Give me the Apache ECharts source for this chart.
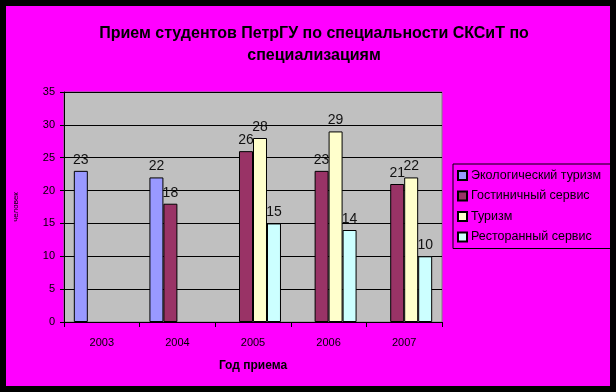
<!DOCTYPE html>
<html><head><meta charset="utf-8">
<script src="https://cdn.jsdelivr.net/npm/echarts@6/dist/echarts.min.js"></script>
<style>
html,body{margin:0;padding:0;background:#000;}
#c{width:616px;height:392px;background:#FF00FF;box-shadow:inset 0 0 0 6px #000;}
</style></head>
<body><div id="c"></div>
<script>
const years = ['2003','2004','2005','2006','2007'];
const seriesNames = ['Экологический туризм','Гостиничный сервис','Туризм','Ресторанный сервис'];
const ecoTourism = [23, 22, null, null, null];
const hotelService = [null, 18, 26, 23, 21];
const tourism = [null, null, 28, 29, 22];
const restaurantService = [null, null, 15, 14, 10];
const yTicks = {min: 0, max: 35, interval: 5};
const colors = ['#9999FF','#993366','#FFFFCC','#CCFFFF'];

const values = [ecoTourism, hotelService, tourism, restaurantService];
const chart = echarts.init(document.getElementById('c'));
chart.setOption({
  backgroundColor: 'transparent',
  animation: false,
  textStyle: {fontFamily: 'Arial, Liberation Sans'},
  title: {
    text: 'Прием студентов ПетрГУ по специальности СКСиТ по\nспециализациям',
    left: 309, top: 18, textAlign: 'center',
    textStyle: {fontSize: 16, fontWeight: 'bold', color: '#000', lineHeight: 22, fontFamily: 'Arial, Liberation Sans'}
  },
  legend: {
    orient: 'vertical', left: 453, top: 164,
    padding: [5, 10, 5, 4],
    itemGap: 7.5, itemWidth: 9, itemHeight: 9, icon: 'rect',
    borderColor: '#000', borderWidth: 1,
    textStyle: {fontSize: 12.5, color: '#000', padding: [0,0,0,-1]},
    data: seriesNames
  },
  grid: {left: 64, right: 174, top: 92, bottom: 70, show: true, backgroundColor: '#C0C0C0', borderColor: '#808080', borderWidth: 1},
  xAxis: {
    type: 'category', data: years,
    name: 'Год приема', nameLocation: 'middle', nameGap: 38,
    nameTextStyle: {fontSize: 12, fontWeight: 'bold', color: '#000'},
    axisLine: {lineStyle: {color: '#000', width: 1}},
    axisTick: {show: true, length: 5, lineStyle: {color: '#000'}},
    axisLabel: {fontSize: 11, color: '#000', margin: 15}
  },
  yAxis: {
    type: 'value', min: yTicks.min, max: yTicks.max, interval: yTicks.interval,
    name: 'человек', nameLocation: 'middle', nameGap: 44, nameRotate: 90,
    nameTextStyle: {fontSize: 8, color: '#000'},
    axisLine: {show: true, lineStyle: {color: '#000', width: 1}},
    axisTick: {show: true, length: 4, lineStyle: {color: '#000'}},
    axisLabel: {fontSize: 11, color: '#000', margin: 9},
    splitLine: {lineStyle: {color: '#000', width: 1}}
  },
  series: seriesNames.map((n, i) => ({
    name: n, type: 'bar', data: values[i],
    barGap: '0%', barCategoryGap: '26%',
    itemStyle: {color: colors[i], borderColor: '#000', borderWidth: 1},
    label: {show: true, position: 'top', distance: 4, fontSize: 14, color: '#111'}
  }))
});
</script></body></html>
